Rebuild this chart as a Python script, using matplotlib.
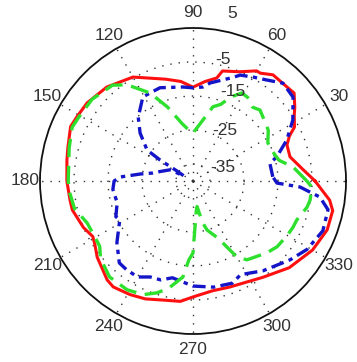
import numpy as np
import matplotlib
matplotlib.use("Agg")
import matplotlib.pyplot as plt

plt.rcParams['font.family'] = ['Liberation Sans', 'DejaVu Sans']

# ---- data (angle in degrees, level in dB) ----
red_ang = [0, 6, 14, 21, 25, 28, 33, 36, 41, 49, 53, 58, 60, 67, 75, 77, 83, 90, 97, 105,
           120, 132.5, 143.6, 151, 156, 165, 170.5, 180, 189, 193.5, 203, 209, 213, 218.5,
           229, 233, 241, 248, 256, 264, 270, 280, 289, 306, 318, 330, 340, 348, 352, 356]
red_db = [-4.1, -7.5, -10.6, -10.4, -8.7, -6.2, -4.5, -3.0, -0.6, -1.0, -0.9, -2.6, -2.6, -5.1,
          -6.5, -8.9, -10.5, -12.4, -10.5, -9.0, -4.7, -2.5, -1.3, -1.0, -0.6, -1.9, -2.4, -2.9,
          -3.4, -3.5, -5.0, -6.3, -5.6, -4.0, -1.5, -1.0, -1.8, -2.6, -3.9, -4.4, -5.9, -7.2,
          -7.0, -5.0, -1.9, 0.6, 2.0, 2.0, 0.6, -2.0]

blue_ang = [3, 13, 16, 23.6, 31.4, 40, 47.4, 53.8, 60, 66, 69, 80, 84, 90, 96, 109.5, 120.8,
            130.7, 137.8, 146, 147.5, 148, 151, 154, 164, 168.7, 172.5, 176.9, 180, 186, 196,
            204.8, 208, 219, 228, 233, 240, 246, 252, 258, 270, 281, 291, 297, 308, 321, 329,
            339, 348, 352.8, 356.8, 358.6]
blue_db = [-16.5, -16.8, -14.4, -9.9, -5.6, -1.6, -0.9, -3.2, -4.7, -5.9, -7.4, -10.7, -12.2,
           -12.6, -12.2, -10.9, -11.2, -15.3, -19.0, -23.7, -28.5, -34.3, -37.0, -32.5, -29.9,
           -28.0, -24.3, -18.5, -16.8, -16.3, -16.8, -15.0, -15.6, -11.2, -7.6, -7.4, -7.4,
           -9.1, -9.4, -10.9, -9.1, -8.2, -7.8, -9.1, -6.5, -3.2, -0.9, 0.9, 0.6, -2.4, -8.5,
           -15.3]

green_ang = [0, 8, 13.6, 20, 27, 34, 40, 46.7, 51, 57, 61, 66, 70, 75, 80.7, 90, 93, 101, 109,
             116, 122.5, 124.5, 130, 141, 151, 156, 165, 180, 185.6, 193, 201.6, 209, 215, 220,
             229, 238.8, 246.3, 252, 257, 262, 264, 267, 270, 272.5, 276, 279, 283, 286, 293,
             295.8, 300, 304.4, 310, 315.8, 322, 330, 335, 339.4, 347, 350.8, 357]
green_db = [-6.5, -10.3, -14.0, -15.0, -15.3, -13.3, -12.5, -11.3, -12.1, -10.6, -10.4, -13.0,
            -16.0, -17.4, -21.8, -25.9, -25.5, -22.7, -17.0, -11.2, -7.2, -5.7, -3.2, -1.8,
            -1.5, -1.1, -2.3, -3.3, -3.6, -4.2, -6.5, -6.8, -6.5, -4.5, -2.6, -2.6, -3.5, -5.4,
            -7.5, -10.6, -11.6, -16.8, -18.8, -26.5, -31.0, -32.4, -27.4, -25.0, -22.0, -19.7,
            -14.2, -11.9, -11.0, -9.7, -8.6, -8.0, -7.6, -7.4, -5.6, -5.1, -5.0]

ring_values = [-35, -25, -15, -5]
outer_value = 5
r_min = -40
angle_ticks = list(range(0, 360, 30))

# ---- figure ----
W, H = 357, 362
fig = plt.figure(figsize=(W / 100, H / 100), dpi=100)
cx, cy, R = 193, 181, 153
ax = fig.add_axes([(cx - R) / W, (H - cy - R) / H, 2 * R / W, 2 * R / H], projection='polar')
ax.set_theta_zero_location('E')
ax.set_theta_direction(1)
rmax = outer_value - r_min
ax.set_ylim(0, rmax)

ax.set_rgrids([v - r_min for v in ring_values], labels=[''] * len(ring_values))
ax.set_thetagrids(angle_ticks, labels=[''] * len(angle_ticks))
ax.grid(True, color='#333333', linestyle=(0, (1, 5)), linewidth=1.0)
ax.spines['polar'].set_color('#111111')
ax.spines['polar'].set_linewidth(1.3)
ax.tick_params(length=0, pad=0)


def closed(a, d):
    a = np.deg2rad(np.array(a + [a[0] + 360.0]))
    r = np.array(d + [d[0]]) - r_min
    return a, r


a, r = closed(red_ang, red_db)
ax.plot(a, r, color='#ff1010', lw=2.2, solid_joinstyle='round', zorder=3)
a, r = closed(blue_ang, blue_db)
ax.plot(a, r, color='#1414c8', lw=2.4, linestyle=(0, (3.9, 1.6, 1.3, 1.6)), zorder=4)
a, r = closed(green_ang, green_db)
ax.plot(a, r, color='#2ee02e', lw=2.4, linestyle=(0, (5.5, 2.6)), zorder=5)

# angle labels
for t in angle_ticks:
    ax.text(np.deg2rad(t), rmax * 1.10, str(t), ha='center', va='center',
            fontsize=12.5, color='#333333', clip_on=False)

# radial labels (positions)
rlab_pos = [(25, 9.7), (57.9, 17.7), (65.8, 28.7), (76.1, 36.7), (76.9, 50.7)]
for (th, rr), v in zip(rlab_pos, ring_values + [outer_value]):
    ax.text(np.deg2rad(th), rr, str(v), ha='center', va='center',
            fontsize=12.5, color='#333333', clip_on=False, zorder=6)

ax.set_facecolor('white')
fig.savefig('out.png', dpi=100, facecolor='white')
